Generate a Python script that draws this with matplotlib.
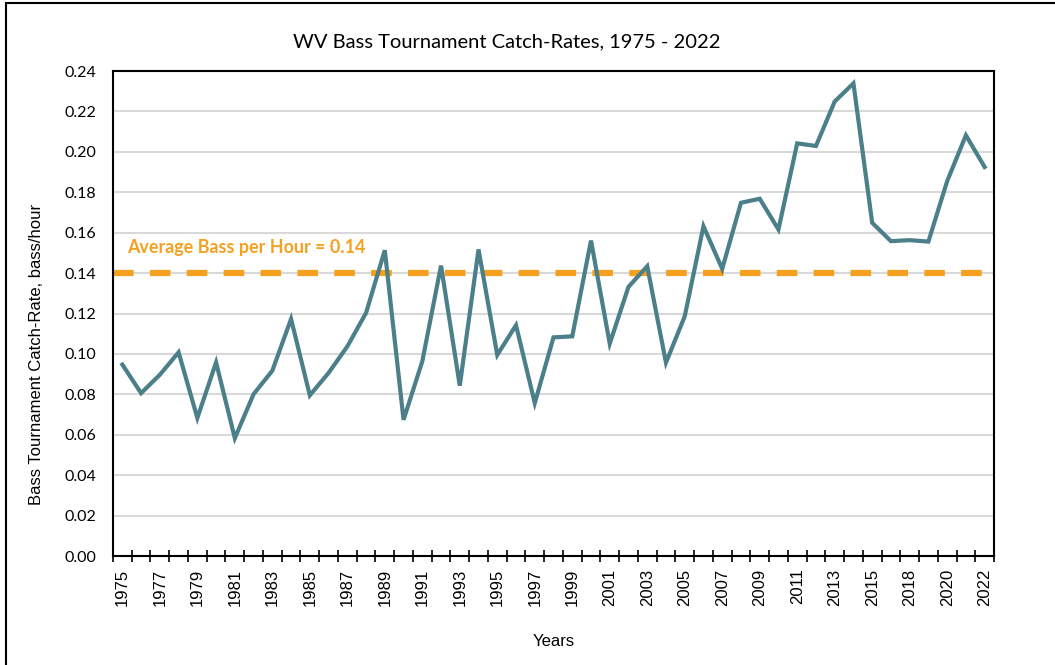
import matplotlib
matplotlib.use('Agg')
from matplotlib import pyplot as plt
from matplotlib.patches import Rectangle
import numpy as np

# dados
anos = [1975, 1976, 1977, 1978, 1979, 1980, 1981, 1982, 1983, 1984,
        1985, 1986, 1987, 1988, 1989, 1990, 1991, 1992, 1993, 1994,
        1995, 1996, 1997, 1998, 1999, 2000, 2001, 2002, 2003, 2004,
        2005, 2006, 2007, 2008, 2009, 2010, 2011, 2012, 2013, 2014,
        2015, 2017, 2018, 2019, 2020, 2021, 2022]
taxa = [0.0947, 0.0806, 0.0897, 0.1008, 0.0683, 0.0958, 0.0583, 0.0801, 0.0917, 0.1173,
        0.0795, 0.0906, 0.1037, 0.1203, 0.1513, 0.0674, 0.0963, 0.1437, 0.0843, 0.1517,
        0.0995, 0.1142, 0.0757, 0.1082, 0.1087, 0.1561, 0.1051, 0.1332, 0.1434, 0.0957,
        0.1186, 0.1632, 0.1421, 0.1748, 0.1768, 0.1616, 0.2042, 0.2029, 0.2249, 0.2339,
        0.1649, 0.1558, 0.1563, 0.1556, 0.1855, 0.2082, 0.1925]
media = 0.14
texto_media = 'Average Bass per Hour = 0.14'
titulo = 'WV Bass Tournament Catch-Rates, 1975 - 2022'
ylabel = 'Bass Tournament Catch-Rate, bass/hour'
xlabel = 'Years'

cor_linha = '#4B7F89'
cor_media = '#F5A01E'

fig = plt.figure(figsize=(10.55, 6.65), dpi=100)
ax = fig.add_axes([0.1071, 0.1639, 0.8351, 0.7293])

x = np.arange(len(anos))
ax.plot(x, taxa, color=cor_linha, lw=3, solid_joinstyle='miter', zorder=3)
ax.axhline(media, color=cor_media, lw=4.5, dashes=(3.3, 2.6), dash_capstyle='butt', zorder=2)

ax.text(0.25, 0.1483, texto_media, color=cor_media, fontsize=12.9, fontweight='bold',
        family='Lato', va='bottom', ha='left')

# eixo y
ax.set_ylim(0, 0.24)
ax.set_yticks(np.arange(0, 0.25, 0.02))
ax.set_yticklabels(['%.2f' % v for v in np.arange(0, 0.25, 0.02)], family='Lato', fontsize=11.5)
ax.tick_params(axis='y', length=0, pad=12)
ax.grid(axis='y', color='#D9D9D9', lw=1.5, zorder=0)
ax.set_axisbelow(True)

# eixo x - marcas entre categorias, rótulos a cada dois anos
ax.set_xlim(-0.5, len(anos) - 0.5)
ax.set_xticks(x[::2])
ax.set_xticklabels([str(a) for a in anos[::2]], rotation=90, family='Liberation Sans', fontsize=12)
ax.tick_params(axis='x', which='major', length=0, pad=9)
ax.set_xticks(np.arange(-0.5, len(anos), 1), minor=True)
ax.tick_params(axis='x', which='minor', direction='inout', length=9, width=1.2, color='black')

for s in ax.spines.values():
    s.set_color('black')
    s.set_linewidth(1.5)

ax.set_ylabel(ylabel, family='Liberation Sans', fontsize=12)
ax.yaxis.set_label_coords(-0.078, 0.4165)
ax.set_xlabel(xlabel, family='Liberation Sans', fontsize=12, labelpad=20)
fig.text(0.48, 0.937, titulo, ha='center', va='center', family='Lato', fontsize=14.5)

# borda da figura
fig.add_artist(Rectangle((6 / 1055, -0.1), 1.2, 1.1 - 3 / 665, transform=fig.transFigure,
                         fill=False, edgecolor='black', lw=1.5))

fig.savefig('out.png', dpi=100)
